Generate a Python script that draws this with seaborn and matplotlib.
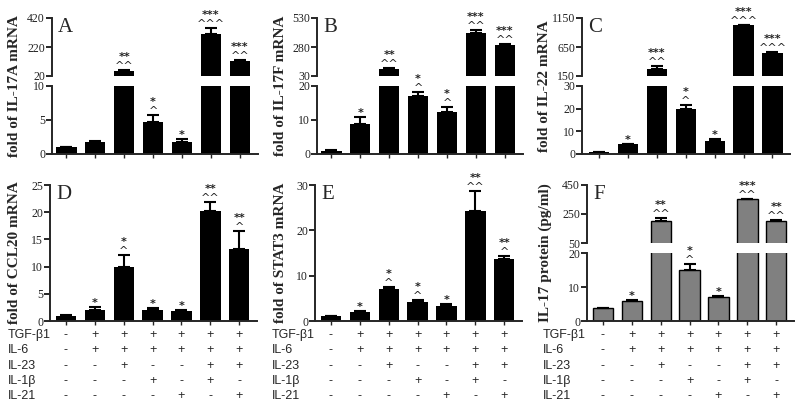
import pandas as pd
import seaborn as sns
import matplotlib.pyplot as plt
from matplotlib.transforms import blended_transform_factory

# groups (bar order)
groups = ["ctrl", "T+6", "T+6+23", "T+6+1b", "T+6+21", "T+6+23+1b", "T+6+23+21"]

# treatment table under the bottom row
row_names = ["TGF-β1", "IL-6", "IL-23", "IL-1β", "IL-21"]
row_signs = [
    ["-", "+", "+", "+", "+", "+", "+"],
    ["-", "+", "+", "+", "+", "+", "+"],
    ["-", "-", "+", "-", "-", "+", "+"],
    ["-", "-", "-", "+", "-", "+", "-"],
    ["-", "-", "-", "-", "+", "-", "+"],
]

# A: IL-17A mRNA
il17a_mean = [1.0, 1.7, 52, 4.7, 1.7, 308, 125]
il17a_err = [0.05, 0.15, 8, 1.1, 0.5, 40, 5]
il17a_star = ["", "", "**", "*", "*", "***", "***"]
il17a_caret = ["", "", "^^", "^", "", "^^^", "^^"]

# B: IL-17F mRNA
il17f_mean = [1.0, 8.7, 88, 17.0, 12.5, 398, 297]
il17f_err = [0.05, 2.1, 8, 1.2, 1.3, 30, 5]
il17f_star = ["", "*", "**", "*", "*", "***", "***"]
il17f_caret = ["", "", "^^", "^", "^", "^^", "^^"]

# C: IL-22 mRNA
il22_mean = [1.0, 4.3, 270, 20.0, 5.8, 1027, 551]
il22_err = [0.05, 0.3, 50, 1.8, 1.0, 8, 5]
il22_star = ["", "*", "***", "*", "*", "***", "***"]
il22_caret = ["", "", "^^", "^", "", "^^^", "^^^"]

# D: CCL20 mRNA
ccl20_mean = [1.0, 2.0, 10.0, 2.1, 1.8, 20.3, 13.3]
ccl20_err = [0.05, 0.5, 2.2, 0.2, 0.2, 1.5, 3.2]
ccl20_star = ["", "*", "*", "*", "*", "**", "**"]
ccl20_caret = ["", "", "^", "", "", "^^", "^"]

# E: STAT3 mRNA
stat3_mean = [1.0, 2.0, 7.0, 4.2, 3.2, 24.2, 13.7]
stat3_err = [0.05, 0.2, 0.6, 0.5, 0.5, 4.5, 0.6]
stat3_star = ["", "*", "*", "*", "*", "**", "**"]
stat3_caret = ["", "", "^", "^", "", "^^", "^"]

# F: IL-17 protein
prot_mean = [3.7, 5.8, 203, 15.0, 7.2, 350, 205]
prot_err = [0.2, 0.3, 20, 1.8, 0.3, 5, 4]
prot_star = ["", "*", "**", "*", "*", "***", "**"]
prot_caret = ["", "", "^^", "^", "", "^^", "^^"]

sns.set_style("ticks")
plt.rcParams["font.family"] = ["Liberation Serif", "DejaVu Serif"]

W, H = 800, 408
fig = plt.figure(figsize=(8, 4.08), dpi=100)
SP = 28.9  # pixels per bar slot
XR = 6.62


def rect(left_px, top_px, bottom_px, xl):
    width = (XR + xl) * SP
    return [left_px / W, 1 - bottom_px / H, width / W, (bottom_px - top_px) / H]


def style_axis(ax, xl, ticks, lw=1.4):
    ax.set_xlim(-xl, XR)
    ax.set_ylim(ticks[0], ticks[-1])
    ax.set_yticks(ticks)
    ax.set_yticklabels([str(t) for t in ticks], fontsize=8.5, color="#222222")
    ax.set_xlabel("")
    ax.set_ylabel("")
    for s in ["top", "right"]:
        ax.spines[s].set_visible(False)
    ax.spines["left"].set_linewidth(lw)
    ax.spines["bottom"].set_linewidth(lw)
    ax.tick_params(axis="y", width=lw, length=4, pad=1)
    ax.tick_params(axis="x", width=1.0, length=3, labelbottom=False)


def draw_bars(ax, means, errs, color, keep):
    df = pd.DataFrame({"group": groups, "value": means})
    sns.barplot(data=df, x="group", y="value", color=color, width=0.7,
                edgecolor="black", linewidth=1.0 if color != "black" else 0,
                saturation=1, ax=ax)
    idx = [i for i in range(len(groups)) if keep[i]]
    if idx:
        ax.errorbar(idx, [means[i] for i in idx],
                    yerr=[[0] * len(idx), [errs[i] for i in idx]],
                    fmt="none", ecolor="black", elinewidth=1.5, capsize=4,
                    capthick=1.5)


def draw_panel(left_px, xl, top_px, bottom_px, means, errs, stars, carets,
               color, ticks_lo, ticks_hi=None, split=None, letter="",
               ylabel="", label_x=15):
    tops = [m + e for m, e in zip(means, errs)]
    in_hi = [ticks_hi is not None and t > ticks_lo[-1] for t in tops]
    if ticks_hi is None:
        ax_lo = fig.add_axes(rect(left_px, top_px, bottom_px, xl))
        ax_hi = None
    else:
        hi_bottom, lo_top = split
        ax_hi = fig.add_axes(rect(left_px, top_px, hi_bottom, xl))
        ax_lo = fig.add_axes(rect(left_px, lo_top, bottom_px, xl))
        draw_bars(ax_hi, means, errs, color, in_hi)
        style_axis(ax_hi, xl, ticks_hi)
        ax_hi.spines["bottom"].set_visible(False)
        ax_hi.tick_params(axis="x", length=0)
    draw_bars(ax_lo, means, errs, color, [not h for h in in_hi])
    style_axis(ax_lo, xl, ticks_lo)
    top_ax = ax_hi if ax_hi is not None else ax_lo
    top_ax.text(0.03, 1.0, letter, transform=top_ax.transAxes, fontsize=15,
                ha="left", va="top")
    # significance marks
    for i, top in enumerate(tops):
        ax = ax_hi if in_hi[i] else ax_lo
        off = 1
        if carets[i]:
            ax.annotate(carets[i], xy=(i, top), xytext=(0, off),
                        textcoords="offset pixels", ha="center", va="baseline",
                        fontsize=8, family="DejaVu Sans", color="#222222")
            off += 9
        if stars[i]:
            ax.annotate(stars[i], xy=(i, top), xytext=(0, off),
                        textcoords="offset pixels", ha="center", va="baseline",
                        fontsize=8, weight="bold", family="DejaVu Sans",
                        color="#222222")
    yc = 1 - ((top_px + bottom_px) / 2) / H
    fig.text(label_x / W, yc, ylabel, rotation=90, ha="center", va="center",
             fontsize=11, weight="bold")
    return ax_lo


# top row
draw_panel(52, 0.5, 18, 154, il17a_mean, il17a_err, il17a_star, il17a_caret,
           "black", [0, 5, 10], [20, 220, 420], (76, 86), "A",
           "fold of IL-17A mRNA", 15)
draw_panel(317, 0.5, 18, 154, il17f_mean, il17f_err, il17f_star, il17f_caret,
           "black", [0, 10, 20], [30, 280, 530], (76, 86), "B",
           "fold of IL-17F mRNA", 280)
draw_panel(582, 0.59, 18, 154, il22_mean, il22_err, il22_star, il22_caret,
           "black", [0, 10, 20, 30], [150, 650, 1150], (76, 86), "C",
           "fold of IL-22 mRNA", 545)

# bottom row
ax_d = draw_panel(50, 0.55, 185, 321, ccl20_mean, ccl20_err, ccl20_star,
                  ccl20_caret, "black", [0, 5, 10, 15, 20, 25], letter="D",
                  ylabel="fold of CCL20 mRNA", label_x=15)
ax_e = draw_panel(315, 0.55, 185, 321, stat3_mean, stat3_err, stat3_star,
                  stat3_caret, "black", [0, 10, 20, 30], letter="E",
                  ylabel="fold of STAT3 mRNA", label_x=280)
ax_f = draw_panel(587, 0.55, 185, 321, prot_mean, prot_err, prot_star,
                  prot_caret, "#808080", [0, 10, 20], [50, 250, 450], (243, 253),
                  "F", "IL-17 protein (pg/ml)", 545)

# treatment table
row_y = [335, 350, 366, 381, 396]
for ax, lab_x in [(ax_d, 8), (ax_e, 272), (ax_f, 543)]:
    tr = blended_transform_factory(ax.transData, fig.transFigure)
    for name, signs, y in zip(row_names, row_signs, row_y):
        fig.text(lab_x / W, 1 - y / H, name, ha="left", va="center",
                 fontsize=9, family=["Liberation Sans", "DejaVu Sans"])
        for i, s in enumerate(signs):
            ax.text(i, 1 - y / H, s, transform=tr, ha="center", va="center",
                    fontsize=9, family=["Liberation Sans", "DejaVu Sans"])

fig.savefig("out.png", dpi=100)
